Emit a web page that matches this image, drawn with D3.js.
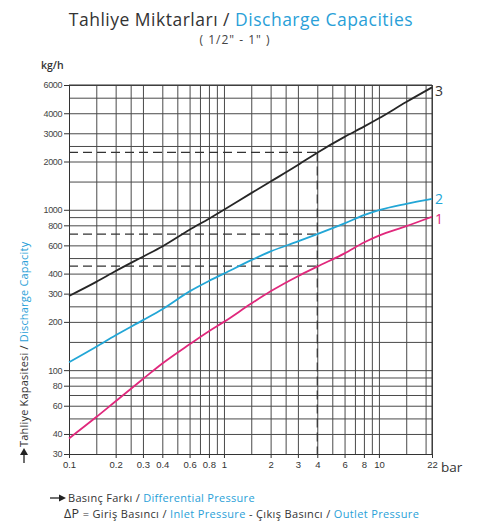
<!DOCTYPE html>
<html><head><meta charset="utf-8">
<script src="https://cdn.jsdelivr.net/npm/d3@7/dist/d3.min.js"></script>
<style>
html,body{margin:0;padding:0;background:#fff;}
svg{display:block;}
</style></head>
<body>
<svg id="chart" width="489" height="524"></svg>
<script>
// ---- data ----
const pressureGrid = [0.1,0.15,0.2,0.25,0.3,0.4,0.5,0.6,0.7,0.8,0.9,1,1.5,2,2.5,3,4,5,6,7,8,9,10,15,20,22];
const pressureTicks = [0.1,0.2,0.3,0.4,0.6,0.8,1,2,3,4,6,8,10,22];
const capacityGrid = [30,40,50,60,70,80,90,100,150,200,250,300,400,500,600,800,900,1000,1500,2000,2500,3000,4000,5000,6000];
const capacityTicks = [30,40,60,80,100,200,300,400,600,800,1000,2000,3000,4000,6000];
const pressures = [0.1,0.15,0.2,0.3,0.4,0.6,0.8,1,1.5,2,3,4,6,8,10,15,22];
const series1 = [37.5,51,64,88,110,145,175,200,260,310,385,442,535,625,690,790,905];
const series2 = [112,140,165,205,240,310,360,400,485,550,635,705,822,925,995,1090,1170];
const series3 = [290,355,415,510,590,750,880,1000,1270,1500,1900,2270,2850,3300,3720,4700,5800];
const seriesNames = ["1","2","3"];
const refPressure = 4;
const refCapacities = [445,705,2280];

const svg = d3.select("#chart");
const x = d3.scaleLog().domain([0.1,22]).range([69,432]);
const y = d3.scaleLog().domain([30,6000]).range([454,85]);
const gridColor = "#4a4a4a";
const blue = "#2a9fd8";
const colors = ["#e0287c", "#22a6d6", "#262626"];
const font = "Open Sans, sans-serif";

// grid
svg.append("g").attr("transform",`translate(0,${y(30)})`)
  .call(d3.axisBottom(x).tickValues(pressureGrid).tickSize(-(y(30)-y(6000))).tickFormat(""))
  .call(g=>g.select(".domain").remove())
  .call(g=>g.selectAll("line").attr("stroke",gridColor).attr("stroke-width",1));
svg.append("g").attr("transform",`translate(${x(0.1)},0)`)
  .call(d3.axisLeft(y).tickValues(capacityGrid).tickSize(-(x(22)-x(0.1))).tickFormat(""))
  .call(g=>g.select(".domain").remove())
  .call(g=>g.selectAll("line").attr("stroke",gridColor).attr("stroke-width",1));

// labelled axes
const xa = svg.append("g").attr("transform",`translate(0,${y(30)})`)
  .call(d3.axisBottom(x).tickValues(pressureTicks).tickSize(4).tickPadding(3).tickFormat(d=>String(d)));
xa.select(".domain").attr("stroke","#333");
xa.selectAll("line").attr("stroke","#333");
xa.selectAll("text").attr("font-family","Liberation Sans, Arial, sans-serif").attr("font-size","9.5px").attr("fill","#333");

const ya = svg.append("g").attr("transform",`translate(${x(0.1)},0)`)
  .call(d3.axisLeft(y).tickValues(capacityTicks).tickSize(5).tickPadding(2).tickFormat(d=>String(d)));
ya.select(".domain").attr("stroke","#333");
ya.selectAll("line").attr("stroke","#333");
ya.selectAll("text").attr("font-family","Liberation Sans, Arial, sans-serif").attr("font-size","9px").attr("fill","#444").attr("letter-spacing","-0.4px");

// frame top/right
svg.append("line").attr("x1",x(0.1)).attr("x2",x(22)).attr("y1",y(6000)).attr("y2",y(6000)).attr("stroke","#333");
svg.append("line").attr("x1",x(22)).attr("x2",x(22)).attr("y1",y(6000)).attr("y2",y(30)).attr("stroke","#333");

// dashed reference lines
refCapacities.forEach(c=>{
  svg.append("line").attr("x1",x(0.1)).attr("x2",x(refPressure)).attr("y1",y(c)).attr("y2",y(c))
    .attr("stroke","#333").attr("stroke-width",1.3).attr("stroke-dasharray","9,5");
});
svg.append("line").attr("x1",x(refPressure)).attr("x2",x(refPressure))
  .attr("y1",y(d3.max(refCapacities))).attr("y2",y(30))
  .attr("stroke","#333").attr("stroke-width",1.2).attr("stroke-dasharray","9,5");

// curves
const allSeries = [series1,series2,series3];
const line = d3.line().x(d=>x(d[0])).y(d=>y(d[1])).curve(d3.curveMonotoneX);
allSeries.forEach((s,i)=>{
  svg.append("path").datum(pressures.map((p,j)=>[p,s[j]]))
    .attr("d",line).attr("fill","none").attr("stroke",colors[i]).attr("stroke-width",1.8);
});
// series labels
const labelDy = [7, 5, 9];
allSeries.forEach((s,i)=>{
  svg.append("text").attr("x",x(22)+3).attr("y",y(s[s.length-1])+labelDy[i])
    .attr("font-family",font).attr("font-size","14px")
    .attr("fill",i===2?"#333":colors[i]).text(seriesNames[i]);
});

// titles
const t = svg.append("text").attr("x",241).attr("y",26).attr("text-anchor","middle")
  .attr("font-family",font).attr("font-size","17.5px").attr("letter-spacing","0.5px");
t.append("tspan").attr("fill","#333").text("Tahliye Miktarları / ");
t.append("tspan").attr("fill",blue).text("Discharge Capacities");
svg.append("text").attr("x",235).attr("y",44).attr("text-anchor","middle")
  .attr("font-family",font).attr("font-size","12px").attr("letter-spacing","1px").attr("fill","#444")
  .text("( 1/2\" - 1\" )");
svg.append("text").attr("x",41).attr("y",69)
  .attr("font-family",font).attr("font-size","10.5px").attr("font-weight","600").attr("fill","#333")
  .text("kg/h");

// y-axis title
const yt = svg.append("text").attr("transform","translate(28,447) rotate(-90)")
  .attr("font-family",font).attr("font-size","11px").attr("letter-spacing","0.2px");
yt.append("tspan").attr("fill","#333").text("Tahliye Kapasitesi / ");
yt.append("tspan").attr("fill",blue).text("Discharge Capacity");
svg.append("line").attr("x1",24).attr("x2",24).attr("y1",463).attr("y2",452).attr("stroke","#222").attr("stroke-width",1.3);
svg.append("path").attr("d","M20,455 L24,448 L28,455 Z").attr("fill","#222");

// bar unit
svg.append("text").attr("x",441).attr("y",472)
  .attr("font-family",font).attr("font-size","13.5px").attr("fill","#333").text("bar");

// bottom notes
svg.append("line").attr("x1",50).attr("x2",60).attr("y1",498).attr("y2",498).attr("stroke","#222").attr("stroke-width",1.3);
svg.append("path").attr("d","M59,494.5 L66,498 L59,501.5 Z").attr("fill","#222");
const b1 = svg.append("text").attr("x",68).attr("y",502)
  .attr("font-family",font).attr("font-size","11px").attr("letter-spacing","0.3px");
b1.append("tspan").attr("fill","#333").text("Basınç Farkı / ");
b1.append("tspan").attr("fill",blue).text("Differential Pressure");
const b2 = svg.append("text").attr("x",64).attr("y",518)
  .attr("font-family",font).attr("font-size","11px").attr("letter-spacing","0.35px");
b2.append("tspan").attr("fill","#333").attr("font-size","12.5px").text("ΔP");
b2.append("tspan").attr("fill","#333").text(" = Giriş Basıncı / ");
b2.append("tspan").attr("fill",blue).text("Inlet Pressure");
b2.append("tspan").attr("fill","#333").text(" - Çıkış Basıncı / ");
b2.append("tspan").attr("fill",blue).text("Outlet Pressure");
</script>
</body></html>
